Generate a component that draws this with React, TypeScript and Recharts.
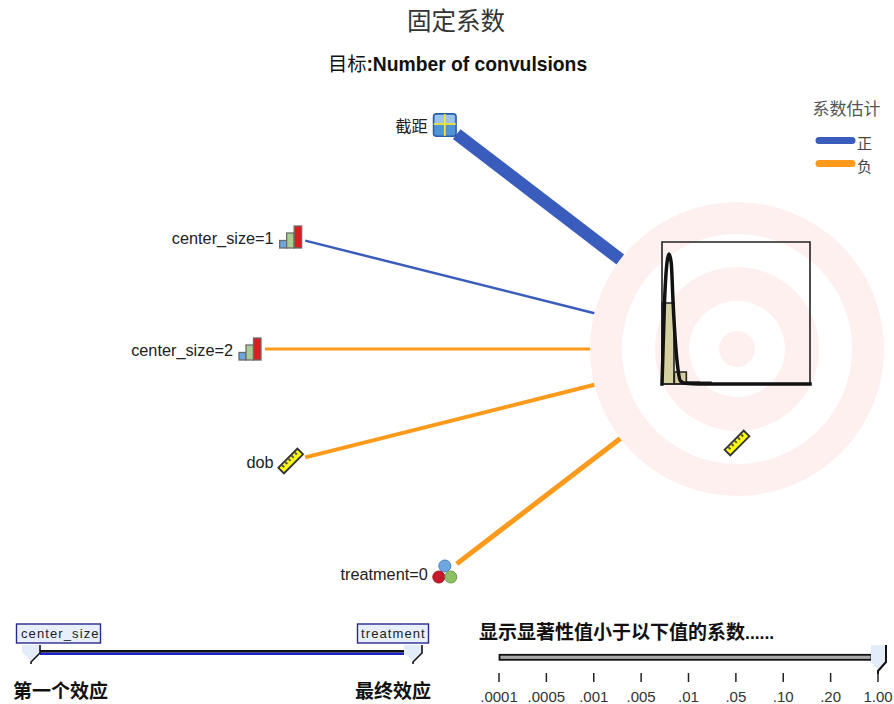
import { BarChart, Bar, ComposedChart, LineChart, Line, Scatter, XAxis, YAxis, ReferenceDot, ReferenceArea } from "recharts"

const W = 894
const H = 704
const LATIN = "'Liberation Sans', Arial, sans-serif"
const CJK = "'Liberation Sans', 'Noto Sans CJK SC', sans-serif"
const BLUE = "#3a5cbc"
const ORANGE = "#fd9a1c"
const PINK = "#fff0f0"

// model effects, top to bottom
const predictors = ["截距", "center_size=1", "center_size=2", "dob", "treatment=0"]
const predictorIcons = ["table", "bars", "bars", "ruler", "balls"]
const coefficients = [2.5, 0.5, -0.6, -0.8, -1.0]

const legendLabels = ["正", "负"]
const legendColors = [BLUE, ORANGE]

const firstLastEffects = ["center_size", "dob", "treatment"]
const significanceTicks = [".0001", ".0005", ".001", ".005", ".01", ".05", ".10", ".20", "1.00"]

// histogram of convulsions, percent of the panel height
const histBins = ["0", "1", "2", "3", "4", "5", "6", "7", "8", "9", "10", "11"]
const histValues = [57, 8.5, 1.4, 1.2, 0, 0, 0, 0, 0, 0, 0, 0]
const curveX = [0, 0.2, 0.4, 0.57, 0.75, 0.9, 1.1, 1.3, 1.5, 1.9, 3, 12]
const curveY = [0, 57, 85, 91.5, 85, 57, 28, 10, 2, 0.5, 0, 0]

// diagram layout: predictors sit on an ellipse around the target
const TARGET = { x: 737, y: 349 }
const RADII = [147, 115, 82, 48, 18]
const ROW_GAP = 112
const ELLIPSE_A = 487
const ELLIPSE_B = 280
const NODE_GAP = 15

const nodes = predictors.map((name, i) => {
  const dy = (i - 2) * ROW_GAP
  const dx = ELLIPSE_A * Math.sqrt(1 - (dy / ELLIPSE_B) ** 2)
  return { name, icon: predictorIcons[i], coef: coefficients[i], x: TARGET.x - dx, y: TARGET.y + dy }
})

const edges = nodes.map((n) => {
  const dx = n.x - TARGET.x
  const dy = n.y - TARGET.y
  const len = Math.sqrt(dx * dx + dy * dy)
  const at = (d: number) => ({ x: TARGET.x + (dx / len) * d, y: TARGET.y + (dy / len) * d })
  return { name: n.name, coef: n.coef, points: [at(len - NODE_GAP), at(RADII[0])] }
})

const targetIcon = [{ x: TARGET.x, y: 443, icon: "ruler", name: "" }]

const histData = histBins.map((bin, i) => ({ bin, value: histValues[i] }))
const curveData = curveX.map((x, i) => ({ x, y: curveY[i] }))
const sigData = significanceTicks.map((p) => ({ p, v: 1 }))
const effectData = firstLastEffects.map((e) => ({ e, v: 1 }))

const layer = { position: "absolute", left: 0, top: 0 } as const

function Ruler({ cx, cy }: { cx: number; cy: number }) {
  return (
    <g transform={`translate(${cx},${cy}) rotate(-45)`}>
      <rect x={-13.5} y={-4} width={27} height={8} fill="#ffff00" stroke="#333" strokeWidth={1.8} />
      {[-9, -4.5, 0, 4.5, 9].map((t) => (
        <rect key={t} x={t - 1} y={-3.2} width={2} height={3} fill="#555" />
      ))}
    </g>
  )
}

function Bars3({ cx, cy }: { cx: number; cy: number }) {
  return (
    <g transform={`translate(${cx - 12},${cy - 12})`} stroke="#6b6b6b" strokeWidth={1.3}>
      <rect x={1} y={15.5} width={7} height={7.5} fill="#6fa5dc" />
      <rect x={8} y={8} width={7.5} height={15} fill="#a9cf8f" />
      <rect x={15.5} y={1} width={7.5} height={22} fill="#d81e1e" />
    </g>
  )
}

function TableIcon({ cx, cy }: { cx: number; cy: number }) {
  return (
    <g transform={`translate(${cx - 12},${cy - 12})`}>
      <rect x={0.7} y={0.7} width={22.6} height={22.6} rx={3} fill="#4f94d4" stroke="#2a5cac" strokeWidth={1.5} />
      <rect x={2} y={2} width={20} height={8} fill="#9fc2e8" />
      <line x1={1} x2={23} y1={11} y2={11} stroke="#f5e23a" strokeWidth={1.8} />
      <line x1={12} x2={12} y1={1} y2={23} stroke="#f5e23a" strokeWidth={1.8} />
    </g>
  )
}

function Balls({ cx, cy }: { cx: number; cy: number }) {
  return (
    <g strokeWidth={1}>
      <circle cx={cx} cy={cy - 7} r={6} fill="#6fa8e0" stroke="#4a80c0" />
      <circle cx={cx - 6} cy={cy + 4} r={6} fill="#c8182c" stroke="#a01020" />
      <circle cx={cx + 6} cy={cy + 4} r={6} fill="#8cc063" stroke="#6c9c48" />
    </g>
  )
}

function NodeMark(props: any) {
  const { cx, cy, payload } = props
  const icon = payload.icon
  return (
    <g>
      {icon === "table" && <TableIcon cx={cx} cy={cy} />}
      {icon === "bars" && <Bars3 cx={cx} cy={cy} />}
      {icon === "ruler" && <Ruler cx={cx} cy={cy} />}
      {icon === "balls" && <Balls cx={cx} cy={cy} />}
      {payload.name && (
        <text x={cx - 17} y={cy + 6.5} textAnchor="end" fontFamily={CJK} fontSize={16.3} fill="#222">
          {payload.name}
        </text>
      )}
    </g>
  )
}

export default function App() {
  return (
    <div style={{ ...layer, width: W, height: H, background: "#fff" }}>
      <ComposedChart width={W} height={H} margin={{ top: 0, right: 0, bottom: 0, left: 0 }} style={layer}>
        <XAxis dataKey="x" type="number" domain={[0, W]} hide />
        <YAxis dataKey="y" type="number" domain={[0, H]} reversed hide />
        {RADII.map((r, i) => (
          <ReferenceDot key={r} x={TARGET.x} y={TARGET.y} r={r} fill={i % 2 === 0 ? PINK : "#fff"} stroke="none" />
        ))}
        {edges.map((e) => (
          <Line
            key={e.name}
            data={e.points}
            dataKey="y"
            stroke={e.coef > 0 ? BLUE : ORANGE}
            strokeWidth={Math.abs(e.coef) * 5}
            dot={false}
            legendType="none"
            isAnimationActive={false}
          />
        ))}
        <Scatter data={nodes} dataKey="y" shape={NodeMark} isAnimationActive={false} />
        <Scatter data={targetIcon} dataKey="y" shape={NodeMark} isAnimationActive={false} />

        <text x={456} y={30} textAnchor="middle" fontFamily={CJK} fontSize={24.5} fill="#333">固定系数</text>
        <text x={457.5} y={71} textAnchor="middle" fontFamily={CJK} fontSize={19.3} fontWeight={700} fill="#111">
          <tspan fontWeight={400}>目标</tspan>:Number of convulsions
        </text>
        <text x={736} y={403} textAnchor="middle" fontFamily={LATIN} fontSize={17.5} fill="#333">convulsions</text>

        <text x={846.5} y={115} textAnchor="middle" fontFamily={CJK} fontSize={17} fill="#555">系数估计</text>
        {legendLabels.map((label, i) => (
          <g key={label}>
            <line x1={819} x2={852} y1={140.5 + i * 23} y2={140.5 + i * 23} stroke={legendColors[i]} strokeWidth={7} strokeLinecap="round" />
            <text x={857} y={149 + i * 23} fontFamily={CJK} fontSize={15} fill="#444">{label}</text>
          </g>
        ))}
      </ComposedChart>

      <BarChart
        width={W}
        height={H}
        data={histData}
        barCategoryGap={0}
        margin={{ top: 242, right: W - 810, bottom: H - 384, left: 662 }}
        style={layer}
      >
        <XAxis dataKey="bin" hide />
        <YAxis domain={[0, 100]} hide />
        <Bar dataKey="value" fill="#d6cf9f" stroke="#222" strokeWidth={1.6} isAnimationActive={false} />
      </BarChart>

      <LineChart
        width={W}
        height={H}
        data={curveData}
        margin={{ top: 242, right: W - 810, bottom: H - 384, left: 662 }}
        style={layer}
      >
        <XAxis dataKey="x" type="number" domain={[0, 12]} hide />
        <YAxis domain={[0, 100]} hide />
        <ReferenceArea x1={0} x2={12} y1={0} y2={100} fill="none" stroke="#222" strokeWidth={1.6} ifOverflow="visible" />
        <Line dataKey="y" type="monotone" stroke="#111" strokeWidth={3.5} strokeLinecap="square" dot={false} isAnimationActive={false} />
      </LineChart>

      {/* effects slider */}
      <LineChart
        width={W}
        height={H}
        data={effectData}
        margin={{ top: 600, right: W - 413, bottom: 31, left: 31 }}
        style={layer}
      >
        <XAxis dataKey="e" height={10} tick={false} tickSize={10} axisLine={false} stroke="#222" tickLine={{ stroke: "#222", strokeWidth: 1.5 }} />
        <YAxis domain={[0, 1]} hide />
        <Line dataKey="v" stroke="none" dot={false} isAnimationActive={false} />
        <rect x={40} y={650} width={364} height={2.6} fill="#111" />
        <rect x={40} y={652.6} width={364} height={2.4} fill="#1a22c8" />
        <polygon points="22,645 39,645 39,653 31,661 22,652" fill="#e2edf9" />
        <polygon points="404,645 422,645 422,653 413,661 404,653" fill="#e2edf9" />
        <polyline points="31,664 31,662 40,653 40,645" fill="none" stroke="#111" strokeWidth={1.6} />
        <polyline points="413,664 413,662 422,653 422,645" fill="none" stroke="#111" strokeWidth={1.6} />
        <rect x={16.5} y={624} width={84} height={19} fill="#e6effb" stroke="#2a2a8c" strokeWidth={1.4} />
        <rect x={357.5} y={624} width={71} height={19} fill="#e6effb" stroke="#2a2a8c" strokeWidth={1.4} />
        <text x={21} y={638} fontFamily={LATIN} fontSize={13} letterSpacing={1.1} fill="#222">{firstLastEffects[0]}</text>
        <text x={361} y={638} fontFamily={LATIN} fontSize={13} letterSpacing={1.1} fill="#222">{firstLastEffects[2]}</text>
        <text x={13} y={698} fontFamily={CJK} fontSize={19} fontWeight={700} fill="#111">第一个效应</text>
        <text x={355} y={698} fontFamily={CJK} fontSize={19} fontWeight={700} fill="#111">最终效应</text>
      </LineChart>

      {/* significance slider */}
      <LineChart
        width={W}
        height={H}
        data={sigData}
        margin={{ top: 657, right: W - 878, bottom: 0, left: 499 }}
        style={layer}
      >
        <XAxis
          dataKey="p"
          interval={0}
          height={31}
          tickSize={9}
          tickMargin={9}
          axisLine={false}
          tickLine={{ stroke: "#222", strokeWidth: 1.5 }}
          tick={{ fontFamily: LATIN, fontSize: 15, fill: "#333" }}
        />
        <YAxis domain={[0, 1]} hide />
        <Line dataKey="v" stroke="none" dot={false} isAnimationActive={false} />
        <rect x={499.5} y={654.8} width={372} height={5} fill="#aaa" stroke="#111" strokeWidth={1.8} />
        <polygon points="871,645 887,645 887,662 879,671 871,662" fill="#e2edf9" />
        <polyline points="878,674 878,671 886,662 886,645" fill="none" stroke="#111" strokeWidth={2} />
        <text x={479} y={639} fontFamily={CJK} fontSize={19} fontWeight={700} fill="#111">
          显示显著性值小于以下值的系数<tspan fontSize={17.5}>......</tspan>
        </text>
      </LineChart>
    </div>
  )
}
